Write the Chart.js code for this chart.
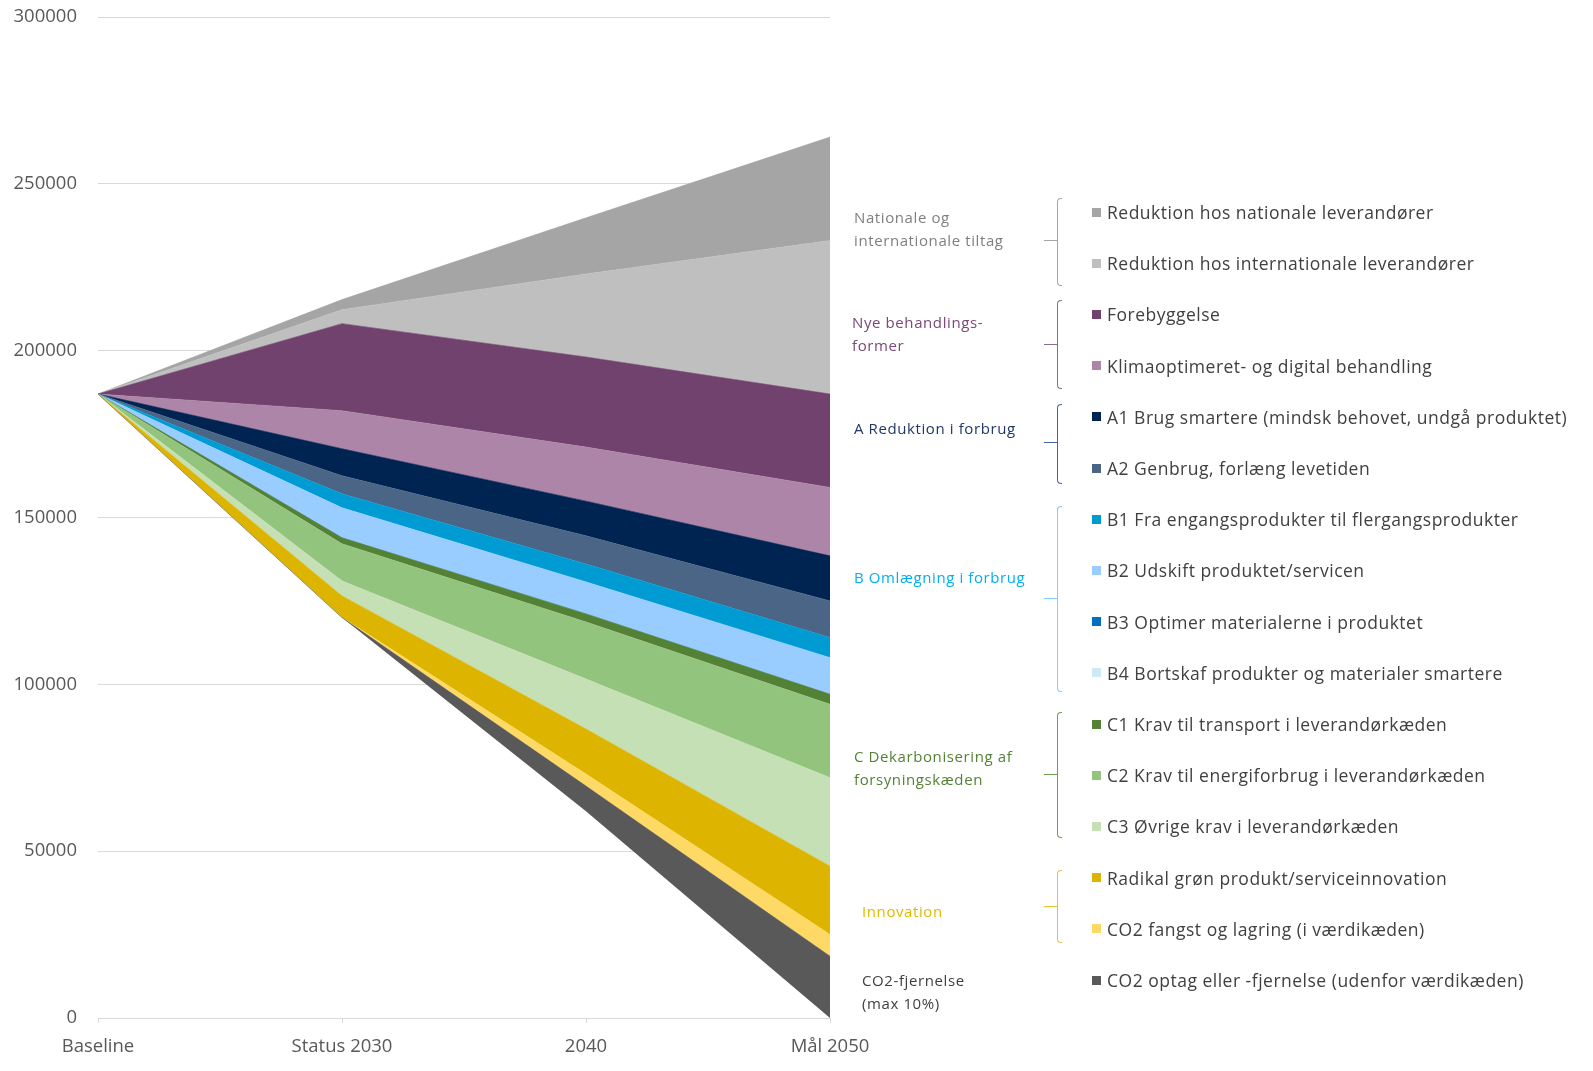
<!DOCTYPE html>
<html>
<head>
<meta charset="utf-8">
<script src="https://cdn.jsdelivr.net/npm/chart.js@4.4.1/dist/chart.umd.min.js"></script>
<style>
  html, body { margin: 0; padding: 0; background: #ffffff; }
  #wrap { position: relative; width: 1593px; height: 1071px; overflow: hidden; font-family: "Open Sans", sans-serif; }
  #chartBox { position: absolute; left: 0; top: 0; width: 1593px; height: 1071px; }
  .lg-item { position: absolute; left: 1092px; height: 24px; display: flex; align-items: center; white-space: nowrap; font-size: 17.5px; letter-spacing: 0.5px; color: #404040; }
  .lg-box { width: 9px; height: 9px; margin-right: 6px; flex: none; }
  .grp { position: absolute; font-size: 15px; letter-spacing: 0.6px; line-height: 23px; white-space: nowrap; }
  .br { position: absolute; left: 1057px; width: 5px; border-style: solid; border-width: 1.5px 0 1.5px 1.5px; border-radius: 4px 0 0 4px; box-sizing: border-box; }
  .tick { position: absolute; left: 1044px; width: 14px; height: 0; border-top: 1.5px solid; }
</style>
</head>
<body>
<div id="wrap">
  <div id="chartBox"><canvas id="c"></canvas></div>
</div>
<script>
// ---- Data ----
const categories = ['Baseline', 'Status 2030', '2040', 'Mål 2050'];
const yTicks = [0, 50000, 100000, 150000, 200000, 250000, 300000];

// invisible base (remaining emissions path)
const baseValues = [187000, 120000, 62000, 0];

// stacked reduction layers (bottom to top)
const co2Optag      = [0, 0, 7500, 18500];
const co2Fangst     = [0, 0, 3600, 6500];
const radikal       = [0, 6500, 13500, 20500];
const c3Oevrige     = [0, 4500, 15000, 26500];
const c2Energi      = [0, 11100, 17100, 22000];
const c1Transport   = [0, 1800, 2400, 3000];
const b4Bortskaf    = [0, 0, 0, 0];
const b3Optimer     = [0, 0, 0, 0];
const b2Udskift     = [0, 9000, 9600, 11000];
const b1Engang      = [0, 4200, 5400, 6000];
const a2Genbrug     = [0, 5400, 8400, 11000];
const a1Smartere    = [0, 8100, 10400, 13500];
const klimaopt      = [0, 11400, 16200, 20500];
const forebyggelse  = [0, 26100, 27000, 28000];
const intLev        = [0, 4200, 24900, 46000];
const natLev        = [0, 3000, 16800, 31000];

const seriesNames = [
  'CO2 optag eller -fjernelse (udenfor værdikæden)',
  'CO2 fangst og lagring (i værdikæden)',
  'Radikal grøn produkt/serviceinnovation',
  'C3 Øvrige krav i leverandørkæden',
  'C2 Krav til energiforbrug i leverandørkæden',
  'C1 Krav til transport i leverandørkæden',
  'B4 Bortskaf produkter og materialer smartere',
  'B3 Optimer materialerne i produktet',
  'B2 Udskift produktet/servicen',
  'B1 Fra engangsprodukter til flergangsprodukter',
  'A2 Genbrug, forlæng levetiden',
  'A1 Brug smartere (mindsk behovet, undgå produktet)',
  'Klimaoptimeret- og digital behandling',
  'Forebyggelse',
  'Reduktion hos internationale leverandører',
  'Reduktion hos nationale leverandører'
];
const seriesValues = [co2Optag, co2Fangst, radikal, c3Oevrige, c2Energi, c1Transport,
  b4Bortskaf, b3Optimer, b2Udskift, b1Engang, a2Genbrug, a1Smartere,
  klimaopt, forebyggelse, intLev, natLev];
const seriesColors = ['#595959', '#FFD966', '#DDB500', '#C5E0B4', '#93C47D', '#538135',
  '#CDE9F8', '#0070C0', '#99CCFF', '#009BD3', '#4A6585', '#002452',
  '#AD85A8', '#71426D', '#BFBFBF', '#A5A5A5'];

const groupLabels = [
  { lines: ['Nationale og', 'internationale tiltag'], color: '#7F7F7F', x: 854, y: 206 },
  { lines: ['Nye behandlings-', 'former'], color: '#7A4877', x: 852, y: 311 },
  { lines: ['A Reduktion i forbrug'], color: '#1F3864', x: 854, y: 417 },
  { lines: ['B Omlægning i forbrug'], color: '#00B0F0', x: 854, y: 566 },
  { lines: ['C Dekarbonisering af', 'forsyningskæden'], color: '#548235', x: 854, y: 745 },
  { lines: ['Innovation'], color: '#E2B900', x: 862, y: 900 },
  { lines: ['CO2-fjernelse', '(max 10%)'], color: '#404040', x: 862, y: 969 }
];
const brackets = [
  { top: 198, bottom: 286, mid: 241, color: '#A6A6A6' },
  { top: 300, bottom: 389, mid: 345, color: '#8E6A8B' },
  { top: 404, bottom: 484, mid: 443, color: '#4466A0' },
  { top: 506, bottom: 692, mid: 599, color: '#7FD0F5' },
  { top: 712, bottom: 838, mid: 775, color: '#6E9E52' },
  { top: 870, bottom: 943, mid: 907, color: '#E8C235' }
];

// ---- Datasets ----
const datasets = [{
  label: 'base',
  data: baseValues,
  fill: false,
  borderWidth: 0,
  borderColor: 'rgba(0,0,0,0)',
  backgroundColor: 'rgba(0,0,0,0)',
  pointRadius: 0
}];
seriesValues.forEach((vals, i) => {
  datasets.push({
    label: seriesNames[i],
    data: vals,
    fill: '-1',
    backgroundColor: seriesColors[i],
    borderColor: seriesColors[i],
    borderWidth: 0.6,
    pointRadius: 0,
    tension: 0
  });
});

const font = { family: '"Open Sans", sans-serif', size: 18.5 };

new Chart(document.getElementById('c'), {
  type: 'line',
  data: { labels: categories, datasets },
  options: {
    responsive: true,
    maintainAspectRatio: false,
    animation: false,
    layout: { padding: { left: 0, right: 763, top: 17, bottom: 0 } },
    plugins: { legend: { display: false }, tooltip: { enabled: false } },
    scales: {
      x: {
        type: 'category',
        offset: false,
        grid: { display: true, drawOnChartArea: false, drawTicks: true, tickLength: 5, color: '#D9D9D9' },
        border: { display: true, color: '#D9D9D9', width: 1 },
        ticks: { color: '#595959', font, maxRotation: 0, autoSkip: false, padding: 13 },
        afterFit: (s) => { s.height = 53; s.paddingLeft = 0; s.paddingRight = 0; }
      },
      y: {
        stacked: true,
        min: 0,
        max: 300000,
        afterBuildTicks: (s) => { s.ticks = yTicks.map(v => ({ value: v })); },
        grid: { color: '#D9D9D9', drawTicks: false, lineWidth: 1 },
        border: { display: false },
        ticks: { color: '#595959', font, padding: 21, callback: (v) => String(v) },
        afterFit: (s) => { s.width = 98; s.paddingTop = 0; s.paddingBottom = 0; }
      }
    }
  }
});

// ---- Legend (HTML, real text) ----
const wrap = document.getElementById('wrap');
const legendOrder = seriesNames.map((n, i) => i).reverse();
legendOrder.forEach((idx, k) => {
  const yc = 212 + k * 51.2;
  const d = document.createElement('div');
  d.className = 'lg-item';
  d.style.top = (yc - 12) + 'px';
  const b = document.createElement('span');
  b.className = 'lg-box';
  b.style.background = seriesColors[idx];
  const t = document.createElement('span');
  t.textContent = seriesNames[idx];
  d.appendChild(b); d.appendChild(t);
  wrap.appendChild(d);
});
groupLabels.forEach(g => {
  const d = document.createElement('div');
  d.className = 'grp';
  d.style.left = g.x + 'px';
  d.style.top = g.y + 'px';
  d.style.color = g.color;
  d.innerHTML = g.lines.join('<br>');
  wrap.appendChild(d);
});
brackets.forEach(br => {
  const d = document.createElement('div');
  d.className = 'br';
  d.style.top = br.top + 'px';
  d.style.height = (br.bottom - br.top) + 'px';
  d.style.borderColor = br.color;
  wrap.appendChild(d);
  const t = document.createElement('div');
  t.className = 'tick';
  t.style.top = (br.mid - 0.75) + 'px';
  t.style.borderColor = br.color;
  wrap.appendChild(t);
});
</script>
</body>
</html>
